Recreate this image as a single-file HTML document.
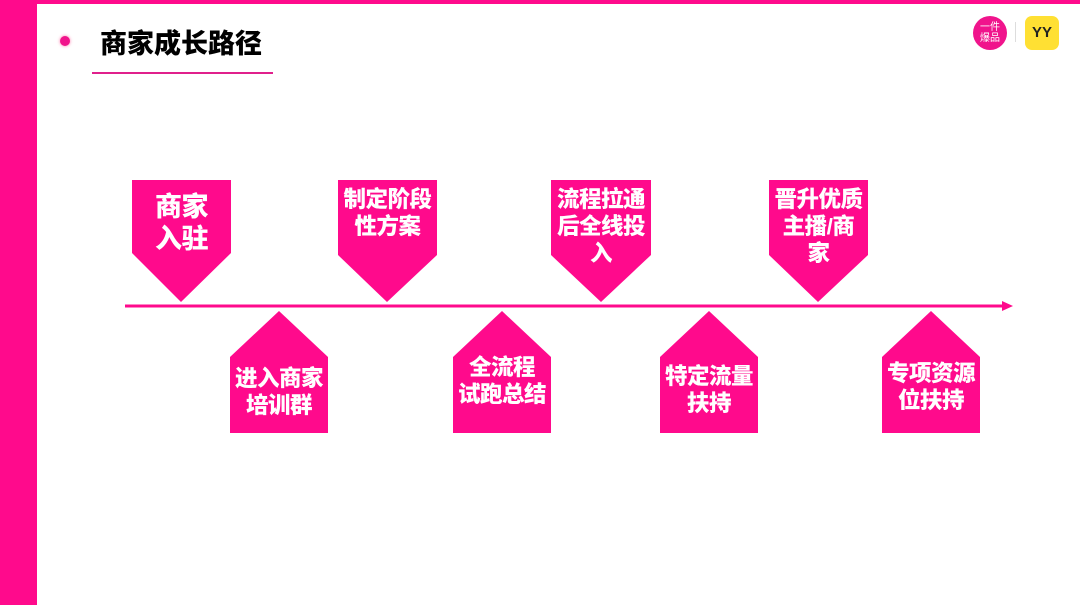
<!DOCTYPE html>
<html><head><meta charset="utf-8"><style>
body{margin:0;width:1080px;height:605px;background:#fff;position:relative;overflow:hidden;font-family:"Liberation Sans","Noto Sans CJK SC",sans-serif}
.t{position:absolute;color:#fff;font-weight:900;text-align:center;font-size:22.5px;line-height:27px;letter-spacing:-0.5px}
</style></head><body>
<div style="position:absolute;left:0;top:0;width:37px;height:605px;background:#ff0a8c"></div>
<div style="position:absolute;left:0;top:0;width:1080px;height:4px;background:#ff0a8c"></div>
<div style="position:absolute;left:60px;top:36px;width:10px;height:10px;border-radius:50%;background:#f0148c;box-shadow:0 0 3px #f7a"></div>
<div style="position:absolute;left:100px;top:22px;font-size:27px;font-weight:900;color:#000">商家成长路径</div>
<div style="position:absolute;left:92px;top:72px;width:181px;height:2px;background:#e0208c"></div>
<div style="position:absolute;left:973px;top:16px;width:34px;height:34px;border-radius:50%;background:#f0148c;color:#fff;font-size:10px;line-height:11px;text-align:center;padding-top:6px;box-sizing:border-box">一件<br>爆品</div>
<div style="position:absolute;left:1015px;top:22px;width:1px;height:20px;background:#ddd"></div>
<div style="position:absolute;left:1025px;top:16px;width:34px;height:34px;border-radius:7px;background:#ffe033;color:#222;font-weight:bold;font-size:15px;line-height:34px;text-align:center">YY</div>
<svg width="1080" height="605" style="position:absolute;left:0;top:0">
<g fill="#ff0a8c">
<line x1="125" y1="306" x2="1004" y2="306" stroke="#ff0a8c" stroke-width="3"/>
<polygon points="1002,301 1013,306 1002,311"/>
<polygon points="132,180 231,180 231,253 181,302 132,253"/>
<polygon points="338,180 437,180 437,255 387,302 338,255"/>
<polygon points="551,180 651,180 651,255 601,302 551,255"/>
<polygon points="769,180 868,180 868,255 818,302 769,255"/>
<polygon points="279,311 328,357 328,433 230,433 230,357"/>
<polygon points="502,311 551,357 551,433 453,433 453,357"/>
<polygon points="709,311 758,357 758,433 660,433 660,357"/>
<polygon points="931,311 980,357 980,433 882,433 882,357"/>
</g></svg>
<div class="t" style="left:128px;top:191px;width:107px;font-size:27px;line-height:32px">商家<br>入驻</div>
<div class="t" style="left:332px;top:186px;width:111px">制定阶段<br>性方案</div>
<div class="t" style="left:545px;top:186px;width:112px">流程拉通<br>后全线投<br>入</div>
<div class="t" style="left:763px;top:186px;width:111px">晋升优质<br>主播/商<br>家</div>
<div class="t" style="left:224px;top:365px;width:110px">进入商家<br>培训群</div>
<div class="t" style="left:447px;top:354px;width:110px">全流程<br>试跑总结</div>
<div class="t" style="left:654px;top:363px;width:110px">特定流量<br>扶持</div>
<div class="t" style="left:876px;top:360px;width:110px">专项资源<br>位扶持</div>
</body></html>
